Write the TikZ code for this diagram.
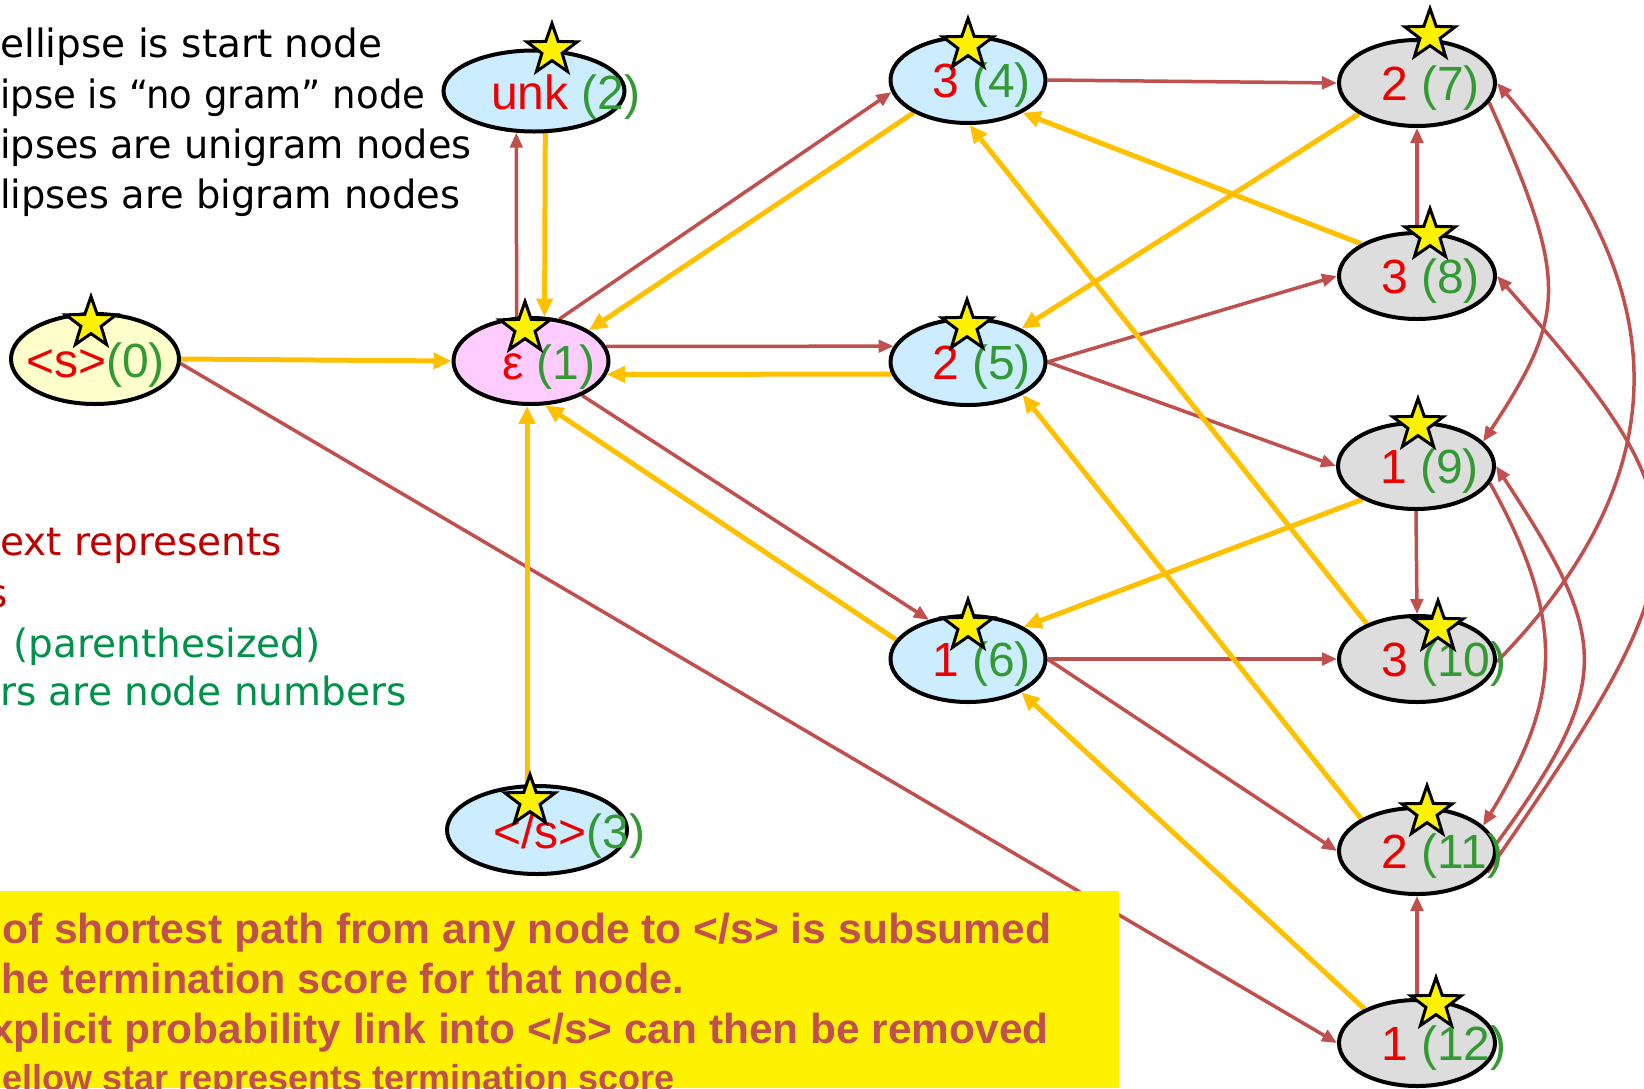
\documentclass[tikz,border=0pt]{standalone}
\usepackage{fontspec}
\setmainfont{Liberation Sans}
\newfontfamily\comicfont{DejaVu Sans}
\usepackage{graphicx}
\usetikzlibrary{shapes.geometric,arrows.meta,calc,backgrounds}
\definecolor{yarr}{HTML}{FFC000}
\definecolor{rarr}{HTML}{C0504D}
\definecolor{fillstart}{HTML}{FFFFCC}
\definecolor{fillpink}{HTML}{FFCCFF}
\definecolor{fillblue}{HTML}{CCECFF}
\definecolor{fillgray}{HTML}{DDDDDD}
\definecolor{numred}{HTML}{EE0000}
\definecolor{numgreen}{HTML}{339933}
\definecolor{txtred}{HTML}{C00000}
\definecolor{txtgreen}{HTML}{00914A}
\definecolor{boxtxt}{HTML}{C0504D}
\newcommand\lblr[1]{\textcolor{numred}{#1}}
\newcommand\lblg[1]{\textcolor{numgreen}{#1}}
\tikzset{
  nodeell/.style={ellipse, draw=black, line width=4pt, inner sep=0pt, minimum width=155pt, minimum height=86pt},
  startell/.style={nodeell, fill=fillstart, minimum width=168pt, minimum height=90pt},
  epsell/.style={nodeell, fill=fillpink},
  uniell/.style={nodeell, fill=fillblue},
  biell/.style={nodeell, fill=fillgray, minimum width=156pt, minimum height=86pt},
  termstar/.style={star, star points=5, star point ratio=2.5, minimum size=53pt, inner sep=0pt, fill=yellow, draw=black, line width=3pt},
  ntxt/.style={anchor=base west, inner sep=0pt, font=\fontsize{48}{52}\selectfont},
  yline/.style={draw=yarr, line width=5pt, -{Triangle[length=18pt,width=16pt]}},
  rline/.style={draw=rarr, line width=3.5pt, -{Triangle[length=15pt,width=12.5pt]}},
  legtxt/.style={anchor=base west, inner sep=0pt, font=\comicfont\fontsize{39}{44}\selectfont},
  boxtext/.style={anchor=base west, inner sep=0pt, text=boxtxt, font=\bfseries\fontsize{42}{48}\selectfont},
}
\begin{document}
\begin{tikzpicture}[x=1pt,y=-1pt]
\useasboundingbox (0,0) rectangle (1644,1088);
\clip (0,0) rectangle (1644,1088);

% legend texts
\node[legtxt] (lg1) at (0,57) {ellipse is start node};
\node[legtxt] (lg2) at (0,108) {\scalebox{0.95}[1]{ipse is “no gram” node}};
\node[legtxt] (lg3) at (0,158) {\scalebox{0.98}[1]{ipses are unigram nodes}};
\node[legtxt] (lg4) at (0,208) {\scalebox{0.985}[1]{lipses are bigram nodes}};
\node[legtxt, text=txtred] (lg5) at (0,555) {ext represents};
\node[legtxt, text=txtred] (lg6) at (-13,607) {s};
\node[legtxt, text=txtgreen] (lg7) at (13,657) {(parenthesized)};
\node[legtxt, text=txtgreen] (lg8) at (0,705) {rs are node numbers};

% ellipses
\node[startell] (n0) at (95,359) {};
\node[epsell] (n1) at (531,361) {};
\node[uniell, minimum width=181pt, minimum height=81pt] (n2) at (534,91) {};
\node[uniell, minimum width=180pt, minimum height=88pt] (n3) at (537,830) {};
\node[uniell] (n4) at (968,80) {};
\node[uniell] (n5) at (968,362) {};
\node[uniell] (n6) at (968,659) {};
\node[biell] (n7) at (1417,83) {};
\node[biell] (n8) at (1417,276) {};
\node[biell] (n9) at (1416,466) {};
\node[biell] (n10) at (1417,659) {};
\node[biell] (n11) at (1417,851) {};
\node[biell] (n12) at (1417,1043) {};

% labels
\node[ntxt] (t0) at ($(n0.center)+(-69,18)$) {\lblr{<s>}\lblg{(0)}};
\node[ntxt] (t1) at ($(n1.center)+(-29,18)$) {\lblr{ε} \lblg{(1)}};
\node[ntxt] (t2) at ($(n2.center)+(-43,18)$) {\lblr{unk} \lblg{(2)}};
\node[ntxt] (t3) at ($(n3.center)+(-44,18)$) {\lblr{</s>}\lblg{(3)}};
\node[ntxt] (t4) at ($(n4.center)+(-36,17)$) {\lblr{3} \lblg{(4)}};
\node[ntxt] (t5) at ($(n5.center)+(-36,17)$) {\lblr{2} \lblg{(5)}};
\node[ntxt] (t6) at ($(n6.center)+(-36,17)$) {\lblr{1} \lblg{(6)}};
\node[ntxt] (t7) at ($(n7.center)+(-36,17)$) {\lblr{2} \lblg{(7)}};
\node[ntxt] (t8) at ($(n8.center)+(-36,17)$) {\lblr{3} \lblg{(8)}};
\node[ntxt] (t9) at ($(n9.center)+(-36,17)$) {\lblr{1} \lblg{(9)}};
\node[ntxt] (t10) at ($(n10.center)+(-36,17)$) {\lblr{3} \lblg{(10)}};
\node[ntxt] (t11) at ($(n11.center)+(-36,17)$) {\lblr{2} \lblg{(11)}};
\node[ntxt] (t12) at ($(n12.center)+(-36,17)$) {\lblr{1} \lblg{(12)}};

% stars
\node[termstar] (s0) at (91,323) {};
\node[termstar] (s1) at (525,328) {};
\node[termstar] (s2) at (552,50) {};
\node[termstar] (s3) at (530,801) {};
\node[termstar] (s4) at (968,45) {};
\node[termstar] (s5) at (967,326) {};
\node[termstar] (s6) at (968,626) {};
\node[termstar] (s7) at (1430,35) {};
\node[termstar] (s8) at (1430,235) {};
\node[termstar] (s9) at (1418,425) {};
\node[termstar] (s10) at (1438,627) {};
\node[termstar] (s11) at (1427,812) {};
\node[termstar] (s12) at (1436,1004) {};

\begin{pgfonlayer}{background}
% red connectors
\draw[rline] (n1.108) -- (n2.247);
\draw[rline] (n1.56) -- (n4.189);
\draw[rline] (n1.11) -- (n5.168);
\draw[rline] (n1.326) -- (n6.135);
\draw[rline] (n0.357) -- (n12.west);
\draw[rline] (n4.east) -- (n7.west);
\draw[rline] (n5.east) -- (n8.west);
\draw[rline] (n5.east) -- (n9.west);
\draw[rline] (n6.east) -- (n10.west);
\draw[rline] (n6.east) -- (n11.west);
\draw[rline] (n8.north) -- (n7.south);
\draw[rline] (n9.south) -- (n10.north);
\draw[rline] (n12.north) -- (n11.south);
\draw[rline] (n7.345) .. controls (1568,280) and (1568,313) .. (n9.20);
\draw[rline] (n10.358) .. controls (1696,458) and (1660,272) .. (n7.east);
\draw[rline] (n11.343) .. controls (1709,553) and (1711,517) .. (n8.east);
\draw[rline] (n9.347) .. controls (1568,624) and (1560,700) .. (n11.21);
\draw[rline] (n11.5) .. controls (1617,680) and (1608,637) .. (n9.east);
% yellow connectors
\draw[yline] (n0.east) -- (n1.west);
\draw[yline] (n2.285) -- (n1.73);
\draw[yline] (n4.211) -- (n1.28);
\draw[yline] (n5.189) -- (n1.350);
\draw[yline] (n6.165) -- (n1.288);
\draw[yline] (n1.265 |- s3.center) -- (n1.265);
\draw[yline] (n7.208) -- (n5.32);
\draw[yline] (n8.150) -- (n4.329);
\draw[yline] (n10.145) -- (n4.272);
\draw[yline] (n9.212) -- (n6.30);
\draw[yline] (n11.150) -- (n5.329);
\draw[yline] (n12.147) -- (n6.328);
\end{pgfonlayer}

% yellow note box
\fill[yellow] (0,891) rectangle (1119,1088);
\node[boxtext] (bx1) at (2,943) {\scalebox{1.015}[1]{of shortest path from any node to </s> is subsumed}};
\node[boxtext] (bx2) at (1,993) {\scalebox{0.985}[1]{he termination score for that node.}};
\node[boxtext] (bx3) at (-10,1043) {\scalebox{1.01}[1]{xplicit probability link into </s> can then be removed}};
\node[boxtext, font=\bfseries\fontsize{36}{40}\selectfont] (bx4) at (2,1090) {ellow star represents termination score};
\end{tikzpicture}
\end{document}
